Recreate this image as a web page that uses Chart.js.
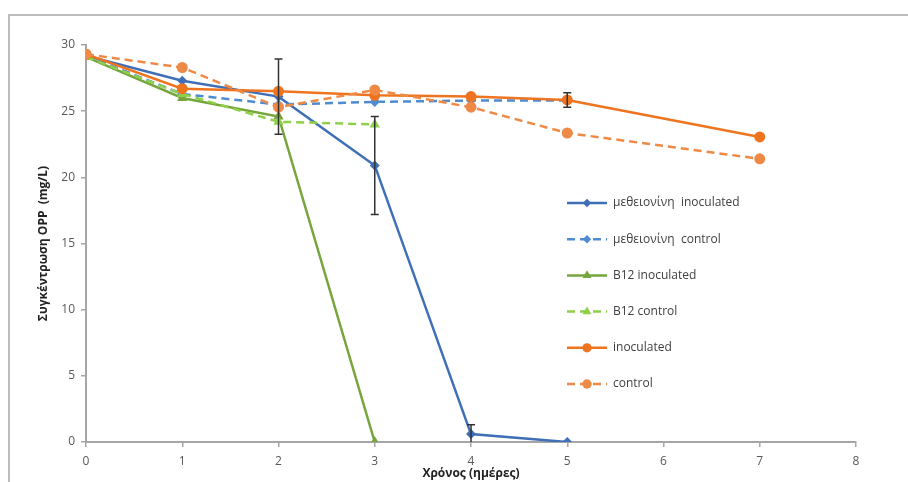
<!DOCTYPE html>
<html>
<head>
<meta charset="utf-8">
<script src="https://cdn.jsdelivr.net/npm/chart.js@4/dist/chart.umd.min.js"></script>
<style>
  html, body { margin: 0; padding: 0; background: #fff; }
  #wrap { width: 908px; height: 482px; }
</style>
</head>
<body>
<div id="wrap"><canvas id="mycanvas"></canvas></div>
<script>
// days measured per series
var days = [0, 1, 2, 3, 4, 5];
var daysB12 = [0, 1, 2, 3];
var daysCtrl = [0, 1, 2, 3, 4, 5, 7];

// OPP concentration (mg/L)
var metInoc = [29.2, 27.3, 26.1, 20.9, 0.6, 0.0];
var metCtrl = [29.2, 26.3, 25.5, 25.7, 25.8, 25.8];
var b12Inoc = [29.1, 26.0, 24.6, 0.0];
var b12Ctrl = [29.1, 26.3, 24.2, 24.0];
var inoc = [29.3, 26.7, 26.5, 26.2, 26.1, 25.85, 23.05];
var ctrl = [29.3, 28.3, 25.3, 26.6, 25.3, 23.35, 21.4];

// error bars (+/-), null = none
var metInocErr = [null, null, 2.85, 3.7, 0.7, null];
var inocErr = [null, null, null, null, null, 0.55, null];

var labels = ['μεθειονίνη  inoculated', 'μεθειονίνη  control', 'B12 inoculated', 'B12 control', 'inoculated', 'control'];

function pts(xs, ys) {
	var out = [];
	for (var i in xs) {
		out.push({x: xs[i], y: ys[i]});
	}
	return out;
}

function series(label, xs, ys, color, dashed, shape, radius, order, err) {
	return {
		label: label,
		data: pts(xs, ys),
		borderColor: color,
		backgroundColor: color,
		borderWidth: 2.5,
		borderDash: dashed ? [8, 5] : [],
		pointStyle: shape,
		pointRadius: radius,
		pointBorderWidth: 0,
		pointBackgroundColor: color,
		tension: 0,
		order: order,
		errors: err
	};
}

var chartdata = {
	datasets: [
		series(labels[0], days, metInoc, '#3F6FB6', false, 'rectRot', 5, 5, metInocErr),
		series(labels[1], days, metCtrl, '#4F8BD0', true, 'rectRot', 5, 4, null),
		series(labels[2], daysB12, b12Inoc, '#76A53C', false, 'triangle', 6, 3, null),
		series(labels[3], daysB12, b12Ctrl, '#8FD04A', true, 'triangle', 6, 2, null),
		series(labels[4], daysCtrl, inoc, '#EE7420', false, 'circle', 5.5, 1, inocErr),
		series(labels[5], daysCtrl, ctrl, '#EE8A45', true, 'circle', 5.5, 0, null)
	]
};

var frame = {
	id: 'frame',
	beforeDraw: function(chart) {
		var c = chart.ctx;
		c.save();
		c.fillStyle = '#fff';
		c.fillRect(0, 0, chart.width, chart.height);
		c.strokeStyle = '#BDBDBD';
		c.lineWidth = 2;
		c.beginPath();
		c.moveTo(9, chart.height);
		c.lineTo(9, 15);
		c.lineTo(chart.width, 15);
		c.stroke();
		c.restore();
	}
};

var errorBars = {
	id: 'errorBars',
	afterDatasetsDraw: function(chart) {
		var c = chart.ctx;
		var xs = chart.scales.x, ys = chart.scales.y;
		c.save();
		c.strokeStyle = '#333';
		c.lineWidth = 1.5;
		chart.data.datasets.forEach(function(ds) {
			if (!ds.errors) return;
			ds.data.forEach(function(p, i) {
				var e = ds.errors[i];
				if (e == null) return;
				var px = xs.getPixelForValue(p.x);
				var top = ys.getPixelForValue(p.y + e);
				var bot = ys.getPixelForValue(Math.max(p.y - e, 0));
				c.beginPath();
				c.moveTo(px, top); c.lineTo(px, bot);
				c.moveTo(px - 4, top); c.lineTo(px + 4, top);
				if (p.y - e > 0) { c.moveTo(px - 4, bot); c.lineTo(px + 4, bot); }
				c.stroke();
			});
		});
		c.restore();
	}
};

var sideLegend = {
	id: 'sideLegend',
	afterDraw: function(chart) {
		var c = chart.ctx;
		var x0 = 567, x1 = 607, tx = 613, y = 203, step = 36.2;
		c.save();
		c.font = '12px "Open Sans", "Liberation Sans", sans-serif';
		c.textBaseline = 'middle';
		chart.data.datasets.forEach(function(ds, i) {
			var yy = y + i * step;
			c.strokeStyle = ds.borderColor;
			c.lineWidth = 2.5;
			c.setLineDash(ds.borderDash);
			c.beginPath();
			c.moveTo(x0, yy); c.lineTo(x1, yy);
			c.stroke();
			c.setLineDash([]);
			c.fillStyle = ds.borderColor;
			Chart.helpers.drawPoint(c, {pointStyle: ds.pointStyle, radius: ds.pointRadius * 0.85, borderWidth: 0}, (x0 + x1) / 2, yy);
			c.fillStyle = '#404040';
			c.fillText(ds.label, tx, yy);
		});
		c.restore();
	}
};

var ctx = document.getElementById('mycanvas');

var lineGraph = new Chart(ctx, {
	type: 'line',
	data: chartdata,
	plugins: [frame, errorBars, sideLegend],
	options: {
		responsive: true,
		maintainAspectRatio: false,
		animation: false,
		layout: { padding: { top: 45, right: 52, left: 0, bottom: 0 } },
		plugins: {
			legend: { display: false },
			tooltip: { enabled: false }
		},
		scales: {
			x: {
				type: 'linear',
				min: 0, max: 8,
				ticks: { stepSize: 1, color: '#595959', padding: 7, font: { size: 12, family: '"Open Sans", "Liberation Sans", sans-serif' } },
				grid: { drawOnChartArea: false, color: '#A6A6A6', tickLength: 5, lineWidth: 1.5 },
				border: { color: '#A6A6A6', width: 2 },
				title: { display: true, text: 'Χρόνος (ημέρες)', color: '#222', padding: { top: 0, bottom: 1 }, font: { size: 12, weight: 'bold', family: '"Open Sans", "Liberation Sans", sans-serif' } },
				afterFit: function(s) { s.height = 40; }
			},
			y: {
				min: 0, max: 30,
				ticks: { stepSize: 5, color: '#595959', padding: 6, font: { size: 12, family: '"Open Sans", "Liberation Sans", sans-serif' } },
				grid: { drawOnChartArea: false, color: '#A6A6A6', tickLength: 5, lineWidth: 1.5 },
				border: { color: '#A6A6A6', width: 2 },
				title: { display: true, text: 'Συγκέντρωση OPP  (mg/L)', color: '#222', padding: { top: 36, bottom: 0 }, font: { size: 12, weight: 'bold', family: '"Open Sans", "Liberation Sans", sans-serif' } },
				afterFit: function(s) { s.width = 86; }
			}
		}
	}
});
</script>
</body>
</html>
